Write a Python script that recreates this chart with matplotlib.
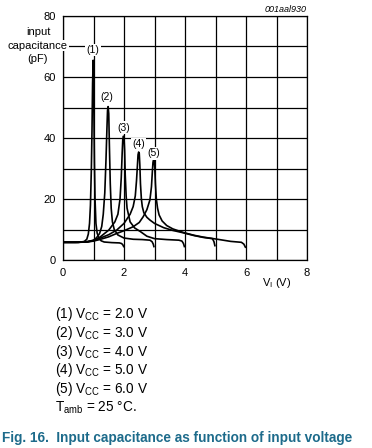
import matplotlib
matplotlib.use("Agg")
import matplotlib.pyplot as plt

plt.rcParams['font.family'] = ['Liberation Sans', 'DejaVu Sans']
plt.rcParams['mathtext.fontset'] = 'custom'
plt.rcParams['mathtext.rm'] = 'Liberation Sans'
plt.rcParams['mathtext.it'] = 'Liberation Sans:italic'
plt.rcParams['mathtext.bf'] = 'Liberation Sans:bold'

# ---- data ----
c1_x = [0, 0.4, 0.6, 0.7, 0.78, 0.83, 0.87, 0.9, 0.93, 0.95, 0.97, 0.99, 1.0, 1.01, 1.03, 1.05, 1.08, 1.12, 1.18, 1.25, 1.35, 1.6, 1.85, 1.92, 1.96, 1.99]
c1_y = [5.8, 5.8, 5.9, 6.1, 6.8, 8.5, 12, 18, 30, 42, 58, 65.5, 64, 52, 32, 20, 12, 8.8, 7.2, 6.3, 5.9, 5.7, 5.6, 5.4, 5.0, 4.4]

c2_x = [0, 0.5, 0.8, 1.0, 1.1, 1.2, 1.27, 1.32, 1.37, 1.41, 1.44, 1.46, 1.48, 1.5, 1.52, 1.55, 1.58, 1.62, 1.68, 1.8, 2.0, 2.3, 2.6, 2.85, 2.92, 2.96, 2.98]
c2_y = [5.8, 5.8, 6.0, 6.5, 7.3, 8.7, 11, 15, 22, 33, 43, 49, 50.3, 48, 38, 25, 17, 12.5, 10, 8.2, 7.2, 6.8, 6.7, 6.5, 6.0, 5.2, 4.4]

c3_x = [0, 0.5, 0.8, 1.0, 1.2, 1.5, 1.7, 1.8, 1.87, 1.91, 1.94, 1.96, 1.98, 2.0, 2.02, 2.04, 2.07, 2.1, 2.2, 2.35, 2.54, 2.75, 3.0, 3.4, 3.8, 3.9, 3.95, 3.98]
c3_y = [5.8, 5.8, 6.0, 6.4, 7.4, 9.8, 12.5, 15, 20, 27, 35, 39.5, 40.6, 40.2, 36, 28, 21, 17, 12.5, 10.5, 9.3, 7.8, 7.0, 6.7, 6.5, 6.2, 5.4, 4.4]

c4_x = [0, 0.5, 0.8, 1.0, 1.2, 1.5, 1.76, 2.0, 2.2, 2.3, 2.37, 2.41, 2.44, 2.46, 2.48, 2.5, 2.52, 2.54, 2.57, 2.6, 2.65, 2.75, 2.85, 3.0, 3.3, 3.6, 3.95, 4.3, 4.6, 4.9, 4.95, 4.98]
c4_y = [5.8, 5.8, 6.0, 6.3, 7.1, 8.3, 9.8, 12, 15, 17.5, 21, 26, 31, 34.5, 35.4, 35, 31, 25, 20, 17.5, 15.5, 14, 13.1, 12, 10.6, 9.7, 8.9, 8.0, 7.4, 7.0, 6.0, 4.7]

c5_x = [0, 0.5, 0.8, 1.0, 1.2, 1.5, 1.76, 2.0, 2.3, 2.5, 2.63, 2.75, 2.85, 2.9, 2.93, 2.95, 2.97, 2.99, 3.01, 3.03, 3.06, 3.1, 3.15, 3.25, 3.4, 3.6, 3.95, 4.3, 4.6, 5.0, 5.5, 5.85, 5.93, 5.98]
c5_y = [5.8, 5.8, 5.9, 6.2, 6.7, 7.6, 8.7, 9.6, 10.9, 12.3, 14.2, 16.5, 19.7, 24, 29, 32, 33, 32.8, 30, 25, 20, 17, 14.8, 12.8, 11.3, 10.2, 9.0, 8.1, 7.5, 6.9, 6.1, 5.8, 5.2, 4.2]

curve_labels = ["(1)", "(2)", "(3)", "(4)", "(5)"]
label_x = [0.99, 1.45, 1.98, 2.47, 2.96]
label_y = [68.9, 53.3, 43.4, 38.0, 35.0]

x_ticks = [0, 2, 4, 6, 8]
y_ticks = [0, 20, 40, 60, 80]

legend_lines = [r"(1) V$_{\mathrm{CC}}$ = 2.0 V",
                r"(2) V$_{\mathrm{CC}}$ = 3.0 V",
                r"(3) V$_{\mathrm{CC}}$ = 4.0 V",
                r"(4) V$_{\mathrm{CC}}$ = 5.0 V",
                r"(5) V$_{\mathrm{CC}}$ = 6.0 V",
                r"T$_{\mathrm{amb}}$ = 25 °C."]
caption = "Fig. 16.  Input capacitance as function of input voltage"

# ---- figure ----
W, H = 372, 448
fig = plt.figure(figsize=(W / 100, H / 100), dpi=100)
ax = fig.add_axes([63 / W, 1 - 260 / H, 244 / W, 244 / H])
ax.set_xlim(0, 8)
ax.set_ylim(0, 80)
ax.set_xticks(x_ticks)
ax.set_yticks(y_ticks)
ax.set_xticks(range(0, 9), minor=True)
ax.set_yticks(range(0, 81, 10), minor=True)
ax.grid(True, which='both', color='black', linewidth=0.9)
ax.set_axisbelow(True)
ax.tick_params(which='both', length=0, labelsize=8)
ax.tick_params(axis='x', pad=6)
ax.tick_params(axis='y', pad=5)
for s in ax.spines.values():
    s.set_linewidth(0.9)

for xs, ys in [(c1_x, c1_y), (c2_x, c2_y), (c3_x, c3_y), (c4_x, c4_y), (c5_x, c5_y)]:
    ax.plot(xs, ys, color='black', linewidth=1.2, solid_joinstyle='round', zorder=3)

for t, lx, ly in zip(curve_labels, label_x, label_y):
    ax.text(lx, ly, t, ha='center', va='center', fontsize=7.5, zorder=4,
            bbox=dict(facecolor='white', edgecolor='none', pad=1.0))

ax.text(7.0, -0.094, r"V$_{\mathrm{I}}$ (V)", transform=ax.get_xaxis_transform(),
        ha='center', va='center', fontsize=8)

# y label
fig.text(38 / W, 1 - 32.3 / H, "input", ha='center', va='center', fontsize=8)
fig.text(38 / W, 1 - 45.7 / H, "capacitance", ha='center', va='center', fontsize=8,
         bbox=dict(facecolor='white', edgecolor='none', pad=0.5))
fig.text(38 / W, 1 - 59.3 / H, "(pF)", ha='center', va='center', fontsize=8)

fig.text(307 / W, 1 - 9 / H, "001aal930", ha='right', va='center', fontsize=6.5, style='italic')

y0 = 318
for i, line in enumerate(legend_lines):
    fig.text(55 / W, 1 - (y0 + i * 18.8) / H, line, ha='left', va='baseline', fontsize=9.8)

fig.text(2 / W, 1 - 441.5 / H, caption, ha='left', va='baseline', fontsize=9.8,
         fontweight='bold', color='#1d6b8b')

fig.savefig("out.png", dpi=100)
